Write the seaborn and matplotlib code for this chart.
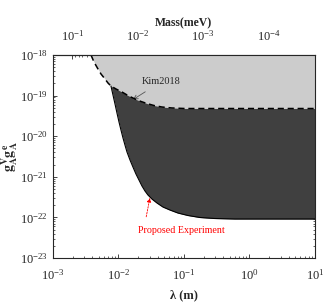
import numpy as np
import matplotlib
matplotlib.use("Agg")
import matplotlib.pyplot as plt
import seaborn as sns
import pandas as pd

# Kim2018 existing limit: log10(lambda / m), log10(coupling)
kim_log_lam = [-2.420, -2.374, -2.313, -2.267, -2.206, -2.160, -2.115, -2.038, -1.947, -1.855,
               -1.748, -1.656, -1.565, -1.458, -1.336, -1.183, -0.985, 1.0]
kim_log_g = [-18.0, -18.172, -18.345, -18.468, -18.591, -18.690, -18.764, -18.837, -18.911, -18.998,
             -19.084, -19.145, -19.195, -19.244, -19.281, -19.305, -19.318, -19.318]

# Proposed experiment sensitivity
prop_log_lam = [-2.115, -2.084, -2.053, -2.023, -1.992, -1.962, -1.931, -1.901, -1.870, -1.824,
                -1.779, -1.733, -1.687, -1.641, -1.595, -1.550, -1.489, -1.412, -1.321, -1.214,
                -1.092, -0.939, -0.756, -0.527, -0.221, 1.0]
prop_log_g = [-18.764, -18.985, -19.207, -19.429, -19.650, -19.847, -20.044, -20.217, -20.389, -20.586,
              -20.759, -20.931, -21.079, -21.227, -21.350, -21.448, -21.547, -21.645, -21.744, -21.818,
              -21.892, -21.953, -22.002, -22.027, -22.039, -22.039]

lam_ticks = [1e-3, 1e-2, 1e-1, 1e0, 1e1]
g_ticks = [1e-23, 1e-22, 1e-21, 1e-20, 1e-19, 1e-18]
mass_ticks = [1e-1, 1e-2, 1e-3, 1e-4]

kim = pd.DataFrame({"lam": 10.0 ** np.array(kim_log_lam), "g": 10.0 ** np.array(kim_log_g)})
prop = pd.DataFrame({"lam": 10.0 ** np.array(prop_log_lam), "g": 10.0 ** np.array(prop_log_g)})

HBARC = 1.973e-4  # meV * m

sns.set_style("ticks")
plt.rcParams["font.family"] = ["Liberation Serif", "DejaVu Serif"]
plt.rcParams["mathtext.fontset"] = "stix"
plt.rcParams["xtick.direction"] = "in"
plt.rcParams["ytick.direction"] = "in"

fig = plt.figure(figsize=(3.28, 3.05), dpi=100)
ax = fig.add_axes([0.1616, 0.154, 0.7984, 0.6657])
ax.set_xscale("log")
ax.set_yscale("log")
ax.set_xticks(lam_ticks)
ax.set_yticks(g_ticks)
ax.set_xlim(1e-3, 1e1)
ax.set_ylim(1e-23, 1e-18)

# filled regions
ax.fill_between(prop["lam"], prop["g"], 1e-18, color="#404040", lw=0, zorder=1)
ax.fill_between(kim["lam"], kim["g"], 1e-18, color="#cccccc", lw=0, zorder=2)

sns.lineplot(data=prop, x="lam", y="g", ax=ax, color="black", lw=0.8, sort=False, zorder=3)
sns.lineplot(data=kim, x="lam", y="g", ax=ax, color="black", lw=1.1, sort=False, zorder=4)
ax.lines[-1].set_linestyle((0, (4, 2.5)))

ax.annotate("Kim2018", xy=(10 ** -1.78, 10 ** -19.1), xytext=(10 ** -1.35, 10 ** -18.66),
            fontsize=7.5, ha="center", va="center",
            arrowprops=dict(arrowstyle="->", color="#555555", lw=0.6, shrinkB=0, shrinkA=3))
ax.annotate("Proposed Experiment", xy=(10 ** -1.52, 10 ** -21.52), xytext=(10 ** -1.046, 10 ** -22.31),
            fontsize=7.2, ha="center", va="center", color="red",
            arrowprops=dict(arrowstyle="-|>", color="red", lw=0.6, ls=(0, (2, 1.5)),
                            shrinkB=0, shrinkA=4, mutation_scale=6,
                            relpos=(0.08, 1.0)))

ax.set_xlabel("λ (m)", fontsize=9, fontweight="bold", labelpad=5)
ax.set_ylabel(r"$\mathbf{g_A^V g_A^e}$", fontsize=10, labelpad=0)
ax.tick_params(which="both", top=False, right=True, labelsize=9)
ax.tick_params(axis="x", which="major", pad=7)
ax.tick_params(which="major", length=3, width=0.6)
ax.tick_params(which="minor", length=1.5, width=0.5)

sec = ax.secondary_xaxis("top", functions=(lambda x: HBARC / x, lambda m: HBARC / m))
sec.set_xticks(mass_ticks)
sec.tick_params(which="both", direction="in", labelsize=9)
sec.tick_params(which="major", length=3, width=0.6, pad=8)
sec.tick_params(which="minor", length=1.5, width=0.5)
sec.set_xlabel("Mass(meV)", fontsize=8.5, fontweight="bold", labelpad=2)

for s in ax.spines.values():
    s.set_linewidth(0.8)
    s.set_zorder(5)

fig.savefig("out.png", dpi=100)
